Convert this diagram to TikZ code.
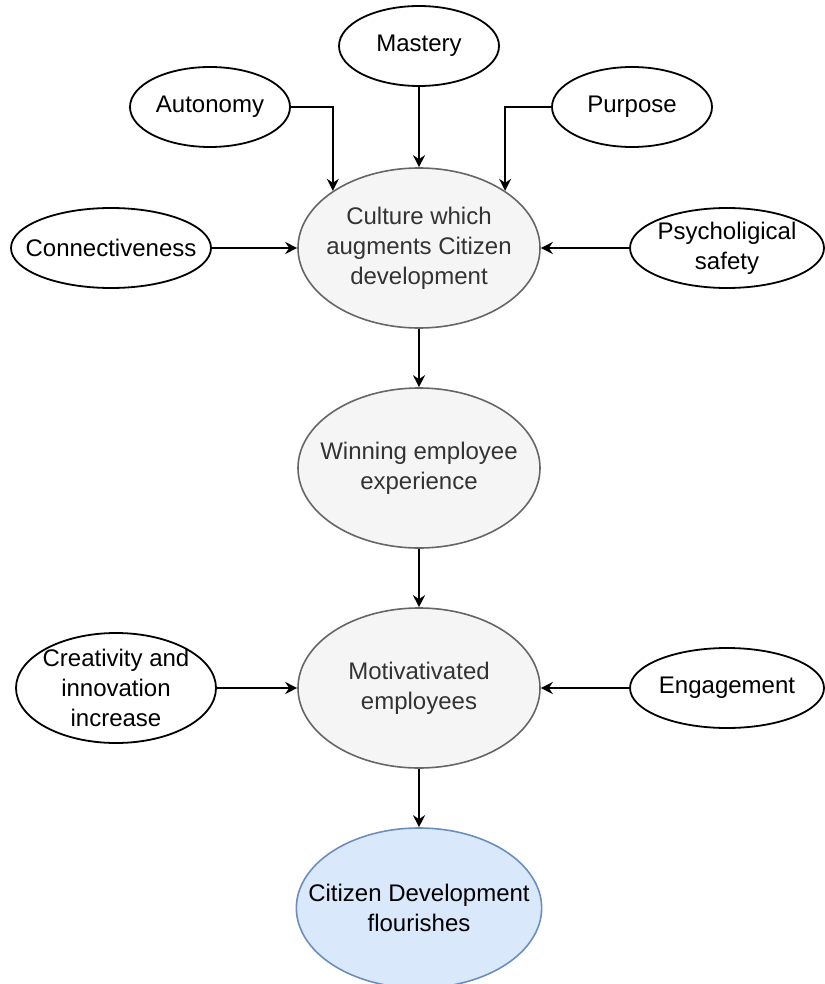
\documentclass[tikz,border=0pt]{standalone}
\usepackage{fontspec}
\setmainfont{Liberation Sans}
\usetikzlibrary{shapes.geometric,arrows.meta}
\definecolor{grayfill}{HTML}{F5F5F5}
\definecolor{graydraw}{HTML}{666666}
\definecolor{graytext}{HTML}{333333}
\definecolor{bluefill}{HTML}{DAE8FC}
\definecolor{bluedraw}{HTML}{6C8EBF}
\tikzset{
  factor/.style={ellipse,draw=black,line width=0.9pt,inner sep=-12pt,align=center,minimum width=80pt,minimum height=40pt},
  stage/.style={ellipse,draw=graydraw,fill=grayfill,text=graytext,line width=0.8pt,inner sep=-12pt,align=center,minimum width=121pt,minimum height=80pt},
  goal/.style={stage,draw=bluedraw,fill=bluefill,text=black},
  arr/.style={-{Stealth[length=6pt,width=6pt]},line width=0.9pt}
}
\begin{document}
\begin{tikzpicture}[x=0.5pt,y=-0.5pt,font=\fontsize{12}{15}\selectfont]
\useasboundingbox (0,0) rectangle (824,984);
% drivers
\node[factor] (mast) at (419,46){Mastery};
\node[factor] (auto) at (210,107){Autonomy};
\node[factor] (purp) at (632,107){Purpose};
\node[factor,minimum width=100pt] (conn) at (111,248){Connectiveness};
\node[factor,minimum width=97pt] (psych) at (727,248){Psycholigical\\safety};
\node[factor,minimum width=100pt,minimum height=55pt] (crea) at (116,688){Creativity and\\innovation\\increase};
\node[factor,minimum width=97pt] (enga) at (727,688){Engagement};
% main chain
\node[stage] (cult) at (419,248){Culture which\\augments Citizen\\development};
\node[stage] (winn) at (419,468){Winning employee\\experience};
\node[stage] (moti) at (419,688){Motivativated\\employees};
\node[goal] (citi) at (419,908){Citizen Development\\flourishes};

\draw[arr] (mast) -- (cult);
\draw[arr] (auto) -| (cult.north west);
\draw[arr] (purp) -| (cult.north east);
\draw[arr] (conn) -- (cult);
\draw[arr] (psych) -- (cult);
\draw[arr] (cult) -- (winn);
\draw[arr] (winn) -- (moti);
\draw[arr] (crea) -- (moti);
\draw[arr] (enga) -- (moti);
\draw[arr] (moti) -- (citi);
\end{tikzpicture}
\end{document}
